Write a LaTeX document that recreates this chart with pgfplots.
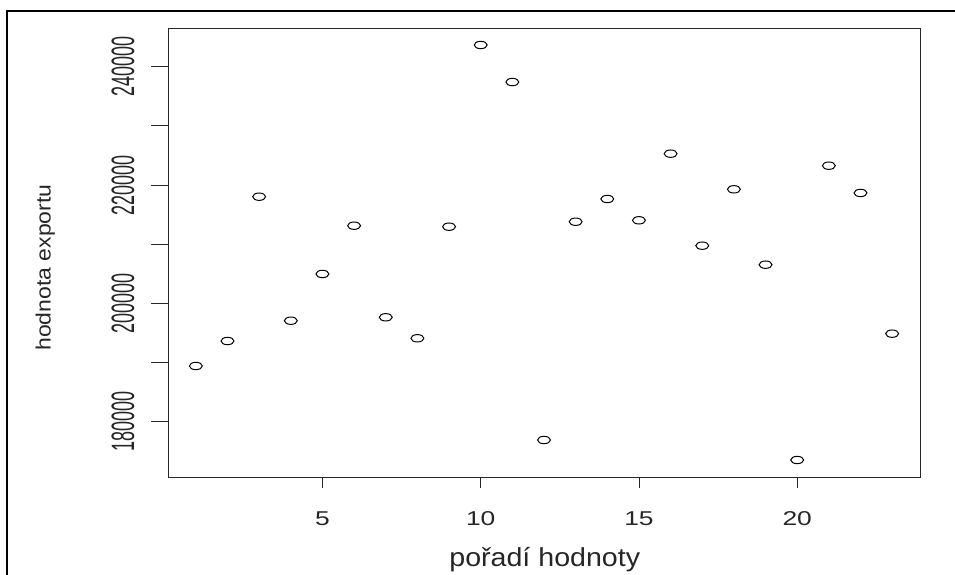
\documentclass[border=0pt]{standalone}
\usepackage{pgfplots}
\pgfplotsset{compat=1.18}
\usepackage{fontspec}
\setmainfont{Liberation Sans}
\newcommand\ylab[1]{\scalebox{1}[1.8]{#1}}
\newcommand\xlab[1]{\scalebox{1.32}[1]{#1}}
\begin{document}
\begin{tikzpicture}
\useasboundingbox (0,0) rectangle (955pt,575pt);
\draw[line width=2pt] (7.3pt,0pt) -- (7.3pt,563.5pt) -- (955pt,563.5pt);
\begin{axis}[
  at={(168pt,98pt)}, anchor=south west,
  scale only axis, width=752pt, height=448.3pt,
  xmin=0.12, xmax=23.88, ymin=170657, ymax=246422,
  axis line style={line width=0.9pt, black!85},
  tick align=outside, tick pos=left,
  xtick={5,10,15,20},
  xticklabels={\xlab{5},\xlab{10},\xlab{15},\xlab{20}},
  ytick={180000,190000,200000,210000,220000,230000,240000},
  yticklabels={\ylab{180000},{},\ylab{200000},{},\ylab{220000},{},\ylab{240000}},
  scaled y ticks=false,
  xtick style={line width=0.9pt, black!85, /pgfplots/major tick length=10.7pt},
  ytick style={line width=0.9pt, black!85, /pgfplots/major tick length=17pt},
  xticklabel style={font=\fontsize{20}{22}\selectfont, anchor=north, inner sep=0pt, yshift=-30pt, text=black!85},
  yticklabel style={font=\fontsize{18}{20}\selectfont, xshift=-29pt, rotate=90, anchor=south, inner sep=0pt, text=black!85},
  xlabel={\scalebox{1.1}[1]{pořadí hodnoty}},
  ylabel={\scalebox{1}[0.9]{hodnota exportu}},
  xlabel style={at={(axis description cs:0.501,-0.2)}, anchor=base, font=\fontsize{26}{28}\selectfont, inner sep=0pt, text=black!85},
  ylabel style={at={(axis description cs:-0.156,0.467)}, anchor=base, rotate=0, font=\fontsize{23}{25}\selectfont, inner sep=0pt, text=black!85},
  clip=false,
]
\addplot[only marks, mark=o, mark size=3.7pt, mark options={xscale=1.75, line width=1pt, black}] coordinates {
(1,189420) (2,193640) (3,218030) (4,197070) (5,204970) (6,213130)
(7,197650) (8,194100) (9,212960) (10,243670) (11,237410) (12,176910)
(13,213800) (14,217640) (15,214040) (16,225300) (17,209750) (18,219280)
(19,206540) (20,173530) (21,223270) (22,218660) (23,194880)
};
\end{axis}
\end{tikzpicture}
\end{document}
